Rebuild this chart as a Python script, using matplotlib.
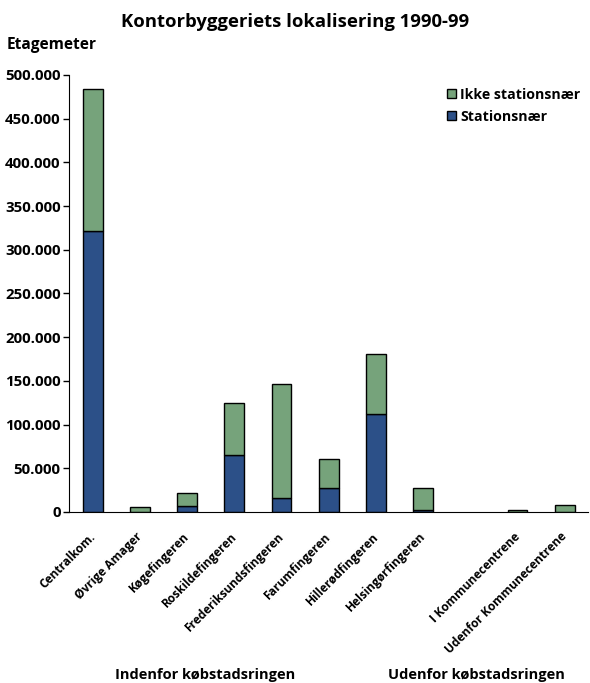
import numpy as np
import matplotlib.pyplot as plt
import matplotlib.transforms as mtransforms
from matplotlib.ticker import FuncFormatter
from matplotlib.patches import Patch

plt.rcParams['font.family'] = ['Open Sans', 'DejaVu Sans']

# områder (tom plads mellem de to grupper)
omraader = ['Centralkom.', 'Øvrige Amager', 'Køgefingeren', 'Roskildefingeren',
            'Frederiksundsfingeren', 'Farumfingeren', 'Hillerødfingeren',
            'Helsingørfingeren', '', 'I Kommunecentrene', 'Udenfor Kommunecentrene']
stationsnaer = [322000, 500, 6900, 65000, 15500, 27000, 112000, 2500, 0, 300, 0]
ikke_stationsnaer = [161500, 4800, 14400, 59500, 131000, 33500, 69000, 24500, 0, 2300, 8000]

groen = '#76a37b'
blaa = '#2c5088'

x = np.arange(len(omraader))
med = np.array([o != '' for o in omraader])
s = np.array(stationsnaer)
i = np.array(ikke_stationsnaer)

fig = plt.figure(figsize=(5.9, 6.83), dpi=100)
ax = fig.add_axes([0.117, 0.2504, 0.88, 0.6398])

ax.bar(x[med], s[med], width=0.42, color=blaa, edgecolor='black', linewidth=1.0)
ax.bar(x[med], i[med], width=0.42, bottom=s[med], color=groen,
       edgecolor='black', linewidth=1.0)

ax.set_xlim(-0.5, 10.5)
ax.set_ylim(0, 500000)
ax.set_yticks(np.arange(0, 500001, 50000))
ax.yaxis.set_major_formatter(FuncFormatter(lambda v, p: f'{int(v):,}'.replace(',', '.')))
for t in ax.get_yticklabels():
    t.set_fontweight('bold')
    t.set_fontsize(10.8)
ax.tick_params(axis='y', length=4, width=1, pad=2)

ax.set_xticks(x)
ax.set_xticklabels(omraader, rotation=45, ha='right', rotation_mode='anchor',
                   fontsize=8.6, fontweight='bold')
ax.tick_params(axis='x', length=0, pad=13)
skub = mtransforms.ScaledTranslation(-0.04, 0, fig.dpi_scale_trans)
for t in ax.get_xticklabels():
    t.set_transform(t.get_transform() + skub)

ax.spines['top'].set_visible(False)
ax.spines['right'].set_visible(False)

# forklaring
handles = [Patch(facecolor=groen, edgecolor='black', label='Ikke stationsnær'),
           Patch(facecolor=blaa, edgecolor='black', label='Stationsnær')]
leg = ax.legend(handles=handles, loc='upper right', bbox_to_anchor=(1.01, 1.0),
                frameon=False, handlelength=0.65, handleheight=0.65,
                handletextpad=0.3, labelspacing=0.55,
                prop={'weight': 'bold', 'size': 10.2})

fig.text(0.5, 0.968, 'Kontorbyggeriets lokalisering 1990-99', ha='center', va='center',
         fontsize=13.3, fontweight='bold')
fig.text(0.012, 0.934, 'Etagemeter', ha='left', va='center', fontsize=11.2, fontweight='bold')
fig.text(0.347, 0.011, 'Indenfor købstadsringen', ha='center', va='center',
         fontsize=10.5, fontweight='bold')
fig.text(0.808, 0.011, 'Udenfor købstadsringen', ha='center', va='center',
         fontsize=10.5, fontweight='bold')

fig.savefig('out.png', dpi=100)
